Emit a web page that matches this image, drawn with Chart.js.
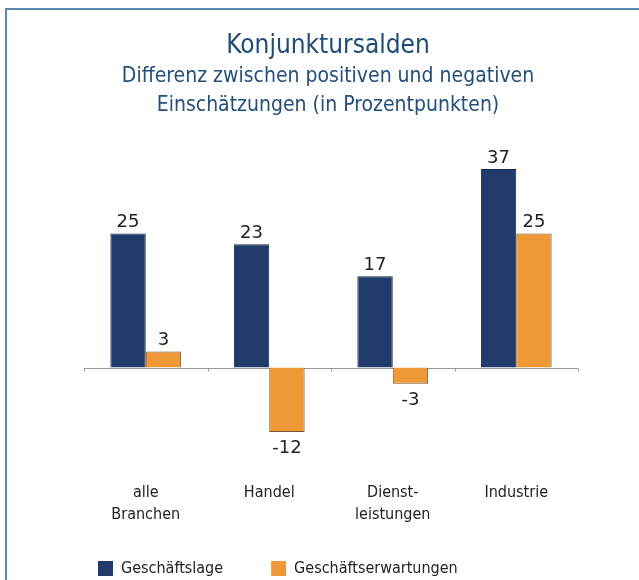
<!DOCTYPE html>
<html>
<head>
<meta charset="utf-8">
<script src="https://cdn.jsdelivr.net/npm/chart.js@4/dist/chart.umd.min.js"></script>
<style>
  html, body { margin: 0; padding: 0; background: #fff; overflow: hidden; }
  #frame { position: absolute; left: 5px; top: 8px; width: 700px; height: 700px;
           border-top: 2px solid #5b87b0; border-left: 2px solid #5b87b0; }
  #wrap { position: absolute; left: 0; top: 0; width: 639px; height: 580px; }
</style>
</head>
<body>
<div id="frame"></div>
<div id="wrap"><canvas id="chart" width="639" height="580"></canvas></div>
<script>
var categories = [['alle', 'Branchen'], 'Handel', ['Dienst-', 'leistungen'], 'Industrie'];
var lage = [25, 23, 17, 37];
var erwartungen = [3, -12, -3, 25];
var seriesNames = ['Geschäftslage', 'Geschäftserwartungen'];

var font = '"Liberation Sans Narrow", "DejaVu Sans Condensed", sans-serif';

// zero line with small tick marks between the categories
var zeroAxis = {
  id: 'zeroAxis',
  afterLayout: function (chart) {
    // let the two-line category labels run below the (short) x axis box
    chart.scales.x.bottom = chart.height;
  },
  beforeDatasetsDraw: function (chart) {
    var c = chart.ctx, x = chart.scales.x, y = chart.scales.y;
    var y0 = Math.round(y.getPixelForValue(0)) + 0.5;
    var half = (x.getPixelForValue(1) - x.getPixelForValue(0)) / 2;
    c.save();
    c.strokeStyle = '#9a9a9a';
    c.lineWidth = 1;
    c.beginPath();
    c.moveTo(chart.chartArea.left, y0);
    c.lineTo(chart.chartArea.right, y0);
    for (var i = 0; i <= categories.length; i++) {
      var px = Math.round(x.getPixelForValue(i) - half) + 0.5;
      c.moveTo(px, y0);
      c.lineTo(px, y0 + 3);
    }
    c.stroke();
    c.restore();
  }
};

// value labels above / below the bars
var valueLabels = {
  id: 'valueLabels',
  afterDatasetsDraw: function (chart) {
    var c = chart.ctx;
    c.save();
    c.font = '18px "DejaVu Sans", sans-serif';
    c.fillStyle = '#222';
    c.textAlign = 'center';
    c.textBaseline = 'alphabetic';
    chart.data.datasets.forEach(function (ds, di) {
      chart.getDatasetMeta(di).data.forEach(function (bar, i) {
        var v = ds.data[i];
        if (v >= 0) c.fillText(String(v), bar.x, bar.y - 6);
        else c.fillText(String(v), bar.x, bar.y + 21);
      });
    });
    c.restore();
  }
};

new Chart(document.getElementById('chart'), {
  type: 'bar',
  data: {
    labels: categories,
    datasets: [{
      label: seriesNames[0],
      data: lage,
      backgroundColor: '#1f3a6b',
      borderColor: '#15284c',
      borderWidth: 1
    }, {
      label: seriesNames[1],
      data: erwartungen,
      backgroundColor: '#ee9838',
      borderColor: '#7a5426',
      borderWidth: 1
    }]
  },
  options: {
    responsive: false,
    animation: false,
    events: [],
    layout: { padding: { left: 50, right: 33, top: 8, bottom: -6.5 } },
    datasets: { bar: { categoryPercentage: 0.573, barPercentage: 1 } },
    scales: {
      x: {
        grid: { display: false, drawTicks: false },
        border: { display: false },
        ticks: {
          padding: 34,
          color: '#222',
          font: { family: font, size: 16, lineHeight: 1.35 },
          maxRotation: 0
        },
        afterFit: function (s) { s.height = 64.5; }
      },
      y: {
        min: -15,
        max: 40,
        grid: { display: false, drawTicks: false },
        border: { display: false },
        ticks: { display: false },
        afterFit: function (s) { s.width = 34; }
      },
      yRight: {
        position: 'right',
        grid: { display: false, drawTicks: false },
        border: { display: false },
        ticks: { display: false },
        afterFit: function (s) { s.width = 28; }
      }
    },
    plugins: {
      tooltip: { enabled: false },
      title: {
        display: true,
        text: 'Konjunktursalden',
        color: '#1e4c77',
        font: { family: font, size: 26, weight: 'normal', lineHeight: 1.2 },
        padding: { top: 22.4, bottom: 0 }
      },
      subtitle: {
        display: true,
        text: ['Differenz zwischen positiven und negativen', 'Einschätzungen (in Prozentpunkten)'],
        color: '#22507b',
        font: { family: font, size: 21, weight: 'normal', lineHeight: 1.38 },
        padding: { top: 0.4, bottom: 33 }
      },
      legend: {
        position: 'bottom',
        align: 'start',
        labels: {
          boxWidth: 15,
          boxHeight: 15,
          padding: 48,
          color: '#222',
          font: { family: font, size: 16 },
          generateLabels: function (chart) {
            return chart.data.datasets.map(function (ds, i) {
              return {
                text: ds.label,
                fillStyle: ds.backgroundColor,
                strokeStyle: ds.backgroundColor,
                lineWidth: 0,
                fontColor: '#222',
                datasetIndex: i
              };
            });
          }
        }
      }
    }
  },
  plugins: [zeroAxis, valueLabels]
});
</script>
</body>
</html>
